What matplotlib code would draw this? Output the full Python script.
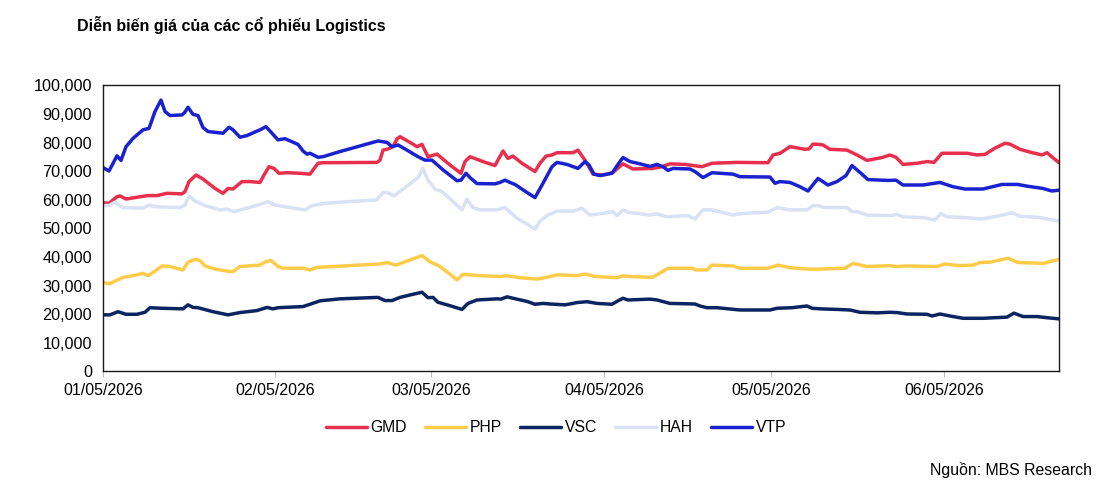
import matplotlib
matplotlib.use("Agg")
import matplotlib.pyplot as plt
from matplotlib.ticker import FuncFormatter

plt.rcParams['font.family'] = ['Liberation Sans', 'DejaVu Sans']

title = "Diễn biến giá của các cổ phiếu Logistics"
source = "Nguồn: MBS Research"

# time axis in session units (0 = 01/05/2026)
tick_pos = [0, 172, 328, 501, 668, 841]
tick_labels = ["01/05/2026", "02/05/2026", "03/05/2026", "04/05/2026", "05/05/2026", "06/05/2026"]
x_end = 956

gmd_t = [0, 6, 14, 17, 23, 37, 45, 54, 64, 79, 82, 86, 93, 100, 112, 120, 125, 130, 139, 147, 157, 161, 166, 171, 176, 184, 197, 207, 215, 220, 274, 277, 280, 285, 290, 294, 297, 307, 314, 319, 325, 334, 347, 358, 362, 367, 380, 392, 400, 405, 410, 419, 432, 437, 443, 449, 454, 470, 475, 482, 490, 500, 510, 520, 530, 550, 559, 567, 582, 599, 609, 634, 665, 670, 677, 687, 702, 706, 710, 716, 720, 727, 744, 754, 764, 779, 787, 793, 800, 814, 824, 831, 839, 864, 874, 882, 892, 902, 907, 917, 927, 939, 944, 956]
gmd_v = [59.0, 58.8, 61.1, 61.4, 60.3, 61.1, 61.5, 61.5, 62.3, 62.1, 62.9, 66.4, 68.7, 67.3, 64.0, 62.3, 64.0, 63.8, 66.4, 66.4, 66.1, 68.7, 71.6, 71.0, 69.3, 69.5, 69.3, 69.0, 72.8, 73.0, 73.1, 73.9, 77.4, 77.8, 78.6, 81.3, 82.1, 80.1, 78.6, 79.4, 75.1, 76.0, 72.2, 69.3, 73.4, 75.1, 73.4, 72.0, 77.1, 74.5, 75.3, 72.8, 69.9, 72.8, 75.3, 75.7, 76.5, 76.5, 77.4, 73.9, 69.0, 68.7, 69.6, 72.6, 70.8, 71.0, 71.6, 72.6, 72.4, 71.6, 72.8, 73.1, 73.0, 75.7, 76.3, 78.6, 77.7, 77.8, 79.5, 79.4, 79.2, 77.7, 77.4, 75.7, 73.8, 74.8, 75.7, 74.9, 72.4, 72.8, 73.4, 73.1, 76.3, 76.3, 75.7, 75.9, 78.1, 79.8, 79.5, 77.7, 76.7, 75.7, 76.5, 73.0]

php_t = [0, 6, 12, 20, 30, 40, 45, 52, 59, 67, 80, 85, 92, 97, 102, 112, 124, 130, 137, 157, 163, 168, 175, 180, 200, 207, 214, 277, 284, 293, 307, 319, 327, 337, 347, 354, 360, 377, 397, 403, 417, 434, 442, 454, 474, 482, 492, 514, 520, 527, 549, 555, 565, 589, 593, 604, 609, 630, 637, 665, 675, 687, 704, 716, 742, 750, 764, 787, 794, 802, 834, 842, 857, 870, 877, 887, 905, 915, 940, 956]
php_v = [31.2, 30.6, 31.6, 32.9, 33.5, 34.3, 33.5, 35.1, 36.9, 36.7, 35.5, 38.2, 39.2, 38.8, 36.9, 35.8, 35.1, 34.9, 36.7, 37.2, 38.4, 38.8, 36.7, 36.1, 36.1, 35.5, 36.4, 37.6, 38.1, 37.2, 39.0, 40.5, 38.4, 36.7, 34.0, 32.0, 34.0, 33.5, 33.2, 33.5, 32.8, 32.3, 32.8, 33.8, 33.5, 34.1, 33.2, 32.8, 33.4, 33.2, 32.9, 34.0, 36.1, 36.1, 35.5, 35.5, 37.2, 36.9, 36.1, 36.1, 37.2, 36.3, 35.8, 35.8, 36.1, 37.8, 36.7, 37.0, 36.7, 36.9, 36.7, 37.6, 37.0, 37.2, 38.1, 38.2, 39.6, 38.1, 37.8, 39.2]

vsc_t = [0, 7, 15, 23, 34, 42, 47, 59, 80, 85, 90, 95, 110, 125, 137, 154, 164, 170, 175, 200, 207, 217, 237, 275, 282, 289, 297, 310, 319, 325, 330, 335, 347, 359, 365, 374, 394, 398, 404, 410, 424, 432, 440, 447, 462, 470, 474, 484, 494, 509, 515, 520, 525, 547, 554, 567, 592, 597, 604, 614, 637, 667, 674, 689, 704, 709, 717, 734, 747, 757, 774, 787, 794, 804, 824, 829, 837, 847, 860, 880, 904, 911, 920, 934, 944, 956]
vsc_v = [19.8, 19.8, 20.9, 20.0, 20.0, 20.7, 22.3, 22.1, 21.9, 23.3, 22.4, 22.3, 20.9, 19.8, 20.6, 21.3, 22.4, 21.9, 22.3, 22.7, 23.5, 24.7, 25.4, 25.9, 24.8, 24.8, 25.9, 27.0, 27.7, 25.8, 25.9, 24.2, 23.0, 21.7, 23.8, 25.0, 25.4, 25.3, 26.1, 25.6, 24.5, 23.5, 23.8, 23.6, 23.3, 23.8, 24.1, 24.4, 23.8, 23.5, 24.7, 25.6, 25.0, 25.3, 25.0, 23.8, 23.6, 22.9, 22.3, 22.3, 21.5, 21.5, 22.1, 22.3, 22.9, 22.1, 21.9, 21.7, 21.5, 20.7, 20.5, 20.7, 20.6, 20.1, 20.0, 19.4, 20.1, 19.4, 18.6, 18.6, 19.0, 20.4, 19.2, 19.2, 18.8, 18.4]

hah_t = [0, 6, 12, 20, 40, 46, 52, 77, 82, 86, 92, 102, 117, 124, 131, 144, 157, 165, 170, 177, 187, 202, 209, 220, 237, 274, 280, 284, 291, 299, 307, 315, 320, 325, 332, 339, 352, 359, 364, 370, 377, 394, 402, 414, 424, 432, 437, 445, 454, 470, 474, 479, 487, 500, 510, 514, 520, 525, 547, 554, 564, 585, 592, 600, 609, 630, 640, 665, 674, 687, 704, 710, 716, 720, 744, 749, 754, 764, 787, 794, 800, 820, 832, 838, 844, 864, 877, 884, 897, 909, 917, 934, 940, 956]
hah_v = [58.0, 58.0, 59.2, 57.3, 57.1, 58.2, 57.6, 57.3, 58.2, 61.4, 59.6, 58.0, 56.5, 56.8, 55.9, 57.1, 58.4, 59.4, 58.4, 57.9, 57.3, 56.5, 58.0, 58.7, 59.2, 60.0, 62.6, 62.6, 61.4, 63.5, 65.6, 67.8, 71.0, 66.9, 63.8, 62.9, 58.8, 56.5, 60.3, 57.3, 56.5, 56.5, 57.3, 53.6, 51.5, 49.8, 52.6, 54.7, 56.1, 56.1, 56.5, 57.1, 54.7, 55.3, 55.9, 54.5, 56.5, 55.7, 54.7, 55.1, 54.1, 54.5, 53.3, 56.5, 56.5, 54.7, 55.3, 55.7, 57.3, 56.5, 56.5, 58.0, 58.0, 57.4, 57.3, 55.9, 55.9, 54.7, 54.5, 54.9, 54.1, 53.8, 53.0, 55.2, 54.1, 53.8, 53.3, 53.6, 54.5, 55.5, 54.3, 53.9, 53.6, 52.6]

vtp_t = [0, 6, 14, 18, 23, 30, 40, 46, 52, 58, 62, 67, 79, 82, 85, 90, 95, 100, 105, 120, 126, 130, 137, 144, 157, 163, 169, 175, 182, 195, 200, 204, 207, 215, 220, 237, 275, 284, 289, 295, 304, 315, 322, 329, 340, 354, 358, 363, 367, 374, 392, 397, 402, 407, 412, 424, 432, 440, 449, 454, 464, 475, 482, 486, 491, 497, 509, 515, 520, 527, 537, 547, 554, 560, 565, 570, 587, 592, 600, 609, 630, 637, 667, 672, 677, 687, 697, 705, 715, 725, 734, 743, 749, 757, 765, 785, 793, 800, 820, 837, 850, 862, 880, 899, 915, 924, 940, 949, 956]
vtp_v = [71.3, 70.1, 75.4, 73.8, 78.6, 81.5, 84.5, 85.0, 90.9, 94.9, 90.9, 89.5, 89.7, 90.7, 92.4, 89.9, 89.5, 85.3, 83.9, 83.3, 85.4, 84.5, 81.9, 82.5, 84.5, 85.6, 83.3, 81.0, 81.4, 79.4, 77.1, 76.0, 76.3, 74.9, 75.1, 76.9, 80.6, 80.1, 78.6, 79.2, 77.4, 75.1, 73.9, 73.9, 70.5, 66.7, 66.9, 69.3, 67.8, 65.7, 65.6, 66.1, 66.9, 66.1, 65.4, 62.6, 60.8, 65.8, 71.6, 73.1, 72.4, 71.0, 73.4, 72.2, 69.0, 68.5, 69.3, 72.4, 74.8, 73.4, 72.6, 71.7, 72.4, 71.6, 70.3, 71.0, 70.8, 69.9, 67.8, 69.5, 69.0, 68.1, 68.0, 65.8, 66.4, 66.1, 64.6, 63.1, 67.5, 65.2, 66.4, 68.5, 72.0, 69.6, 67.1, 66.8, 66.9, 65.2, 65.2, 66.1, 64.6, 63.8, 63.8, 65.4, 65.4, 64.8, 64.0, 63.1, 63.4]

series = [
    ("GMD", gmd_t, gmd_v, "#E8304E"),
    ("PHP", php_t, php_v, "#FFCC4A"),
    ("VSC", vsc_t, vsc_v, "#0C2561"),
    ("HAH", hah_t, hah_v, "#D9E2F3"),
    ("VTP", vtp_t, vtp_v, "#1A22CF"),
]

fig = plt.figure(figsize=(11.04, 4.93), dpi=100)
ax = fig.add_axes([0.0933, 0.2465, 0.8659, 0.5801])

for name, t, v, c in series:
    ax.plot(t, [val * 1000 for val in v], color=c, lw=2.5, label=name,
            solid_joinstyle="round", solid_capstyle="round")

ax.set_xlim(0, x_end)
ax.set_ylim(0, 100000)
ax.set_yticks(range(0, 100001, 10000))
ax.yaxis.set_major_formatter(FuncFormatter(lambda y, p: f"{int(y):,}"))
ax.set_xticks(tick_pos)
ax.set_xticklabels(tick_labels)
ax.tick_params(axis="y", length=0, labelsize=11.7, pad=8, colors="#000000")
ax.tick_params(axis="x", length=4, width=0.8, color="#BFBFBF", labelsize=11.5, pad=4)
for s in ax.spines.values():
    s.set_color("#1a1a1a")
    s.set_linewidth(1.0)

fig.text(77 / 1104, 1 - 25 / 493, title, fontsize=11.5, fontweight="bold",
         ha="left", va="center", color="#000000")
fig.text(1092 / 1104, 1 - 470 / 493, source, fontsize=11.4, ha="right",
         va="center", color="#000000")

leg = fig.legend(loc="center", bbox_to_anchor=(556 / 1104, 1 - 428 / 493), ncol=5,
                 frameon=False, fontsize=11.3, handlelength=2.6, handletextpad=0.25,
                 columnspacing=1.15)
for ln in leg.get_lines():
    ln.set_linewidth(2.5)

fig.savefig("out.png", dpi=100)
